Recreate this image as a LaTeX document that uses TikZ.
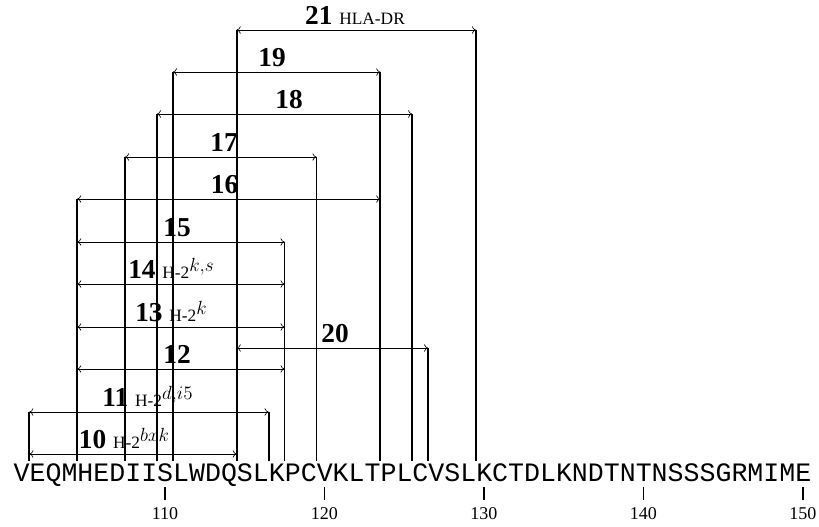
\RequirePackage{fix-cm}
\documentclass[tikz,border=0pt]{standalone}
\usepackage{fontspec}
\setmainfont{Liberation Serif}
\setmonofont{Liberation Mono}
\usetikzlibrary{arrows.meta, calc}
\newcommand{\htwo}[1]{{\fontsize{13}{15}\selectfont H-2\raisebox{5.5pt}{\scalebox{1.1}{$#1$}}}}

\begin{document}
\begin{tikzpicture}[
  x=0.75pt, y=-0.75pt,
  span/.style={{To[length=3pt,width=5.5pt]}-{To[length=3pt,width=5.5pt]},
    line width=0.5pt},
  vline/.style={line width=1.4pt},
  tick/.style={line width=1.4pt},
  lab/.style={anchor=base, inner sep=0pt, font=\fontsize{20.5}{24}\selectfont},
  num/.style={anchor=base, inner sep=0pt, font=\fontsize{13.5}{16}\selectfont},
  seq/.style={anchor=base west, inner sep=0pt,
    font=\ttfamily\fontsize{19.94}{24}\selectfont},
]
\useasboundingbox (0,0) rectangle (819,527);
%% Sequence
\node[seq] (seq) at (13.4,482) {VEQMHEDIISLWDQSLKPCVKLTPLCVSLKCTDLKNDTNTNSSSGRMIME};
\coordinate (base) at (0,461);
%% Ticks and residue numbers
\foreach \n/\x in {110/164.95, 120/324.45, 130/483.95, 140/643.45, 150/802.95}{
  \coordinate (t\n) at (\x,487);
  \draw[tick] (t\n) -- ++(0,13);
  \node[num] (n\n) at (\x,520) {\n};
}
%% Span end points
\coordinate (s21a) at (236.7,30);   \coordinate (s21b) at (475.95,30);
\coordinate (s19a) at (172.9,72);   \coordinate (s19b) at (380.25,72);
\coordinate (s18a) at (156.95,114); \coordinate (s18b) at (412.15,114);
\coordinate (s17a) at (125.05,157); \coordinate (s17b) at (316.45,157);
\coordinate (s16a) at (77.2,199);   \coordinate (s16b) at (380.25,199);
\coordinate (s15a) at (77.2,242);   \coordinate (s15b) at (284.55,242);
\coordinate (s14a) at (77.2,284);   \coordinate (s14b) at (284.55,284);
\coordinate (s13a) at (77.2,327);   \coordinate (s13b) at (284.55,327);
\coordinate (s20a) at (236.7,348);  \coordinate (s20b) at (428.1,348);
\coordinate (s12a) at (77.2,369);   \coordinate (s12b) at (284.55,369);
\coordinate (s11a) at (29.35,412);  \coordinate (s11b) at (268.6,412);
\coordinate (s10a) at (29.35,454);  \coordinate (s10b) at (236.7,454);
%% Vertical bars down to the sequence
\draw[vline] (s11a) -- (s11a |- base);
\draw[vline] (s16a) -- (s16a |- base);
\draw[vline] (s17a) -- (s17a |- base);
\draw[vline] (s18a) -- (s18a |- base);
\draw[vline] (s19a) -- (s19a |- base);
\draw[vline] (s21a) -- (s21a |- base);
\draw[vline] (s11b) -- (s11b |- base);
\draw[vline] (s15b) -- (s15b |- base);
\draw[vline] (s17b) -- (s17b |- base);
\draw[vline] (s19b) -- (s19b |- base);
\draw[vline] (s18b) -- (s18b |- base);
\draw[vline] (s20b) -- (s20b |- base);
\draw[vline] (s21b) -- (s21b |- base);
%% Spans
\draw[span] (s21a) -- (s21b);
\draw[span] (s19a) -- (s19b);
\draw[span] (s18a) -- (s18b);
\draw[span] (s17a) -- (s17b);
\draw[span] (s16a) -- (s16b);
\draw[span] (s15a) -- (s15b);
\draw[span] (s14a) -- (s14b);
\draw[span] (s13a) -- (s13b);
\draw[span] (s20a) -- (s20b);
\draw[span] (s12a) -- (s12b);
\draw[span] (s11a) -- (s11b);
\draw[span] (s10a) -- (s10b);
%% Labels
\node[lab] (l21) at (355,25)   {\textbf{21} {\fontsize{13}{15}\selectfont HLA-DR}};
\node[lab] (l19) at (272,67)   {\textbf{19}};
\node[lab] (l18) at (289,109)  {\textbf{18}};
\node[lab] (l17) at (224,152)  {\textbf{17}};
\node[lab] (l16) at (224.5,194) {\textbf{16}};
\node[lab] (l15) at (177,237)  {\textbf{15}};
\node[lab] (l14) at (171,279)  {\textbf{14} \htwo{k{,}s}};
\node[lab] (l13) at (171,322)  {\textbf{13} \htwo{k}};
\node[lab] (l20) at (335,343)  {\textbf{20}};
\node[lab] (l12) at (177,364)  {\textbf{12}};
\node[lab] (l11) at (147.5,407) {\textbf{11} \htwo{d{,}i5}};
\node[lab] (l10) at (124,449)  {\textbf{10} \htwo{bxk}};
\end{tikzpicture}
\end{document}
